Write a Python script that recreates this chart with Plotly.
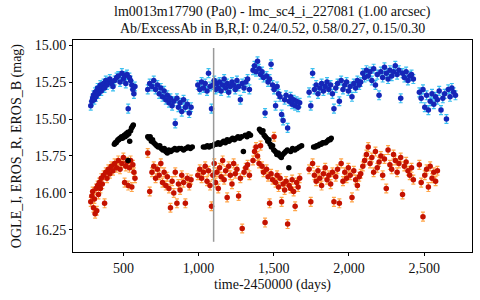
import plotly.graph_objects as go

# EROS observation epochs (days, time-2450000), shared by B and R
eros_t = [
    283, 290, 296, 301, 307, 312, 318, 323, 329, 334, 340, 347, 353, 360, 368, 375, 383, 391, 400, 410,
    420, 431, 442, 455, 466, 478, 490, 500, 508, 516, 524, 532, 540, 548, 556, 563, 570, 577,
    662, 675, 690, 702, 714, 726, 738, 749, 760, 771, 782, 792, 803, 813, 824, 835, 845, 856, 866, 877,
    888, 900, 912, 925, 938, 950,
    995, 1008, 1020, 1032, 1044, 1056, 1066, 1076, 1086, 1095, 1104, 1113, 1122, 1131, 1140, 1150, 1160,
    1170, 1180, 1190, 1200, 1211, 1222, 1233, 1244, 1255, 1266, 1278, 1290, 1302, 1314, 1326, 1338,
    1362, 1372, 1382, 1392, 1402, 1412, 1422, 1432, 1442, 1452, 1462, 1472, 1482, 1492, 1502, 1512,
    1522, 1532, 1542, 1552, 1562, 1572, 1582, 1592, 1602, 1612, 1622, 1632, 1642, 1652, 1662, 1672,
    1735, 1746, 1758, 1770, 1782, 1794, 1806, 1818, 1830, 1842, 1854, 1866, 1878, 1890, 1900, 1912,
    1924, 1936, 1948, 1960, 1972, 1984, 1996, 2008, 2020, 2032, 2044, 2056, 2068, 2078,
    2092, 2104, 2116, 2128, 2140, 2152, 2164, 2176, 2188, 2200, 2212, 2224, 2236, 2248, 2260, 2272,
    2284, 2296, 2308, 2320, 2332, 2344, 2356, 2368, 2380, 2392, 2404, 2416, 2428,
    2468, 2480, 2492, 2504, 2516, 2528, 2540, 2552, 2564, 2576, 2588, 2600, 2612, 2624, 2636, 2648,
    2660, 2672, 2684, 2696, 2708,
]

eros_b = [
    15.41, 15.38, 15.36, 15.34, 15.37, 15.32, 15.35, 15.31, 15.29, 15.33, 15.30, 15.27, 15.31, 15.28, 15.26, 15.29, 15.24, 15.27, 15.25, 15.23,
    15.26, 15.28, 15.24, 15.22, 15.21, 15.25, 15.19, 15.23, 15.21, 15.26, 15.20, 15.43, 15.22, 15.24, 15.27, 15.30, 15.33, 15.28,
    15.30, 15.26, 15.28, 15.24, 15.30, 15.27, 15.33, 15.29, 15.35, 15.31, 15.37, 15.34, 15.39, 15.36, 15.41, 15.38, 15.53, 15.36, 15.42, 15.39,
    15.45, 15.37, 15.42, 15.40, 15.46, 15.42,
    15.27, 15.30, 15.25, 15.29, 15.26, 15.31, 15.19, 15.28, 15.43, 15.27, 15.24, 15.30, 15.26, 15.29, 15.25, 15.31, 15.27,
    15.23, 15.29, 15.26, 15.32, 15.28, 15.25, 15.27, 15.30, 15.24, 15.28, 15.37, 15.26, 15.29, 15.25, 15.23, 15.30,
    15.17, 15.14, 15.18, 15.11, 15.16, 15.20, 15.18, 15.22, 15.46, 15.21, 15.25, 15.23, 15.13, 15.27, 15.30, 15.41,
    15.28, 15.33, 15.35, 15.47, 15.51, 15.37, 15.34, 15.56, 15.38, 15.35, 15.40, 15.37, 15.41, 15.38, 15.42, 15.39,
    15.32, 15.41, 15.19, 15.30, 15.27, 15.33, 15.29, 15.26, 15.31, 15.28, 15.25, 15.30, 15.27, 15.33, 15.43, 15.29,
    15.26, 15.38, 15.24, 15.30, 15.27, 15.25, 15.31, 15.28, 15.35, 15.26, 15.29, 15.24, 15.27, 15.25,
    15.19, 15.22, 15.17, 15.21, 15.18, 15.24, 15.16, 15.27, 15.20, 15.34, 15.18, 15.22, 15.15, 15.19, 15.23, 15.17,
    15.21, 15.18, 15.14, 15.20, 15.17, 15.36, 15.19, 15.22, 15.18, 15.24, 15.21, 15.20, 15.23,
    15.32, 15.36, 15.30, 15.42, 15.34, 15.44, 15.38, 15.33, 15.40, 15.35, 15.37, 15.31, 15.44, 15.36, 15.33, 15.50,
    15.30, 15.35, 15.29, 15.32, 15.34,
]

eros_r = [
    16.06, 16.02, 15.99, 16.10, 16.04, 16.14, 15.97, 16.12, 15.95, 16.01, 15.93, 15.97, 15.90, 15.94, 15.88, 16.07, 15.86, 15.90, 15.84, 15.87,
    15.82, 15.85, 15.80, 15.83, 15.78, 15.84, 15.80, 15.76, 15.93, 15.82, 15.79, 15.95, 15.83, 15.78, 15.96, 15.81, 15.86, 15.90,
    15.73, 15.99, 15.86, 15.82, 15.90, 15.84, 15.88, 15.80, 15.93, 15.86, 15.95, 15.89, 15.97, 16.10, 15.92, 16.00, 15.86, 16.07, 15.94, 15.98,
    15.88, 15.93, 16.07, 15.90, 15.95, 15.91,
    15.88, 15.84, 15.90, 15.86, 15.82, 15.92, 15.85, 15.95, 16.09, 15.88, 15.80, 15.93, 15.86, 15.97, 15.83, 15.89, 15.78,
    15.91, 15.85, 16.03, 15.82, 15.88, 15.94, 15.80, 15.87, 15.84, 16.02, 15.90, 16.24, 15.86, 15.83, 15.81, 15.88,
    15.78, 15.72, 15.69, 15.75, 15.80, 15.68, 15.82, 15.86, 16.20, 15.84, 15.89, 16.07, 15.87, 15.91, 15.62, 15.93,
    15.88, 15.96, 15.90, 16.06, 15.94, 15.98, 15.92, 16.21, 15.95, 15.97, 15.91, 15.99, 16.09, 15.93, 15.96, 15.90,
    15.84, 16.06, 15.80, 15.88, 15.92, 15.85, 15.90, 15.95, 15.87, 15.83, 15.91, 15.88, 15.94, 15.86, 16.06, 15.89,
    15.84, 16.07, 15.80, 15.92, 15.86, 15.90, 15.83, 15.88, 16.03, 15.85, 15.91, 15.95, 15.89, 15.87,
    15.82, 15.78, 15.74, 15.69, 15.80, 15.76, 15.86, 15.72, 15.83, 15.79, 15.75, 15.88, 15.77, 15.97, 15.71, 15.81,
    15.84, 15.74, 15.78, 15.86, 15.80, 15.76, 16.01, 15.82, 15.79, 15.85, 15.88, 15.83, 15.91,
    15.81, 15.93, 16.16, 15.88, 15.84, 15.96, 15.82, 15.90, 15.86, 15.92, 15.85, None, None, None, None, None,
    None, None, None, None, None,
]

err_b = 0.03
err_r = 0.03

# OGLE I epochs and magnitudes
ogle_t = [
    440, 446, 452, 458, 464, 470, 476, 482, 488, 494, 500, 506, 512, 518, 524, 530, 536, 542, 548, 554, 560, 566, 531,
    662, 670, 678, 686, 694, 702, 712, 722, 732, 742, 752, 762, 772, 782, 792, 802, 815, 828, 842, 856, 870,
    885, 900, 915, 930, 945, 958,
    1032, 1045, 1058, 1070, 1082, 1094, 1106, 1118, 1130, 1142, 1154, 1166, 1178, 1190, 1202, 1214, 1226,
    1238, 1250, 1262, 1274, 1286, 1298, 1310, 1322, 1334, 1345,
    1405, 1412, 1420, 1428, 1436, 1444, 1452, 1460, 1468, 1476, 1484, 1492, 1500, 1510, 1520, 1530, 1540,
    1550, 1560, 1570, 1580, 1590, 1600, 1612, 1625, 1640, 1655, 1670, 1685,
    1765, 1775, 1785, 1795, 1805, 1815, 1825, 1835, 1845, 1855, 1865, 1875, 1882,
]
ogle_i = [
    15.67, 15.66, 15.66, 15.65, 15.64, 15.64, 15.63, 15.63, 15.62, 15.63, 15.62, 15.61, 15.62, 15.60, 15.61, 15.59, 15.60, 15.65, 15.58, 15.56, 15.55, 15.54, 15.78,
    15.62, 15.63, 15.62, 15.65, 15.64, 15.66, 15.67, 15.68, 15.69, 15.68, 15.70, 15.71, 15.70, 15.72, 15.73, 15.71, 15.72, 15.71, 15.70, 15.71, 15.70,
    15.70, 15.71, 15.70, 15.69, 15.70, 15.69,
    15.69, 15.69, 15.68, 15.69, 15.68, 15.68, 15.67, 15.67, 15.66, 15.67, 15.66, 15.65, 15.66, 15.64, 15.65, 15.64, 15.63,
    15.64, 15.63, 15.62, 15.63, 15.62, 15.72, 15.61, 15.62, 15.60, 15.61,
    15.57, 15.58, 15.59, 15.58, 15.61, 15.62, 15.63, 15.65, 15.64, 15.67, 15.69, 15.68, 15.71, 15.72, 15.74, 15.73, 15.75,
    15.76, 15.74, 15.73, 15.72, 15.71, 15.83, 15.72, 15.70, 15.71, 15.70, 15.69, 15.68,
    15.69, 15.69, 15.68, 15.68, 15.67, 15.67, 15.66, 15.66, 15.66, 15.65, 15.64, 15.64, 15.63,
]

marker_line_day = 1100
marker_line_mag = [15.02, 16.33]

title_lines = ["lm0013m17790 (Pa0) - lmc_sc4_i_227081 (1.00 arcsec)",
               "Ab/ExcessAb in B,R,I: 0.24/0.52, 0.58/0.27, 0.15/0.30"]
x_label = "time-2450000 (days)"
y_label = "OGLE_I, EROS_R, EROS_B (mag)"
x_ticks = [500, 1000, 1500, 2000, 2500]
y_ticks = [15.00, 15.25, 15.50, 15.75, 16.00, 16.25]

FONT = "Liberation Serif"

fig = go.Figure()
fig.add_trace(go.Scatter(
    x=eros_t, y=eros_b, mode="markers", name="EROS_B",
    marker=dict(color="#1526b8", size=5.5),
    error_y=dict(type="constant", value=err_b, color="#3cc0f0", thickness=1.2, width=2),
))
fig.add_trace(go.Scatter(
    x=eros_t, y=eros_r, mode="markers", name="EROS_R",
    marker=dict(color="#c41200", size=5.5),
    error_y=dict(type="constant", value=err_r, color="#ffa64a", thickness=1.2, width=2),
))
fig.add_trace(go.Scatter(
    x=ogle_t, y=ogle_i, mode="markers", name="OGLE_I",
    marker=dict(color="#000000", size=5.5),
))
fig.add_trace(go.Scatter(
    x=[marker_line_day, marker_line_day], y=marker_line_mag, mode="lines",
    line=dict(color="#999999", width=1.5), hoverinfo="skip",
))

# plot area: x 73..472, y 40..252 px
fig.update_layout(
    width=480, height=300,
    margin=dict(l=73, r=8, t=40, b=48, autoexpand=False),
    paper_bgcolor="white", plot_bgcolor="white",
    showlegend=False,
    font=dict(family=FONT, size=14, color="#111111"),
    annotations=[
        dict(text=title_lines[0], x=0.5, xref="paper", y=1.132, yref="paper",
             xanchor="center", yanchor="middle", showarrow=False,
             font=dict(family=FONT, size=14)),
        dict(text=title_lines[1], x=0.5, xref="paper", y=1.052, yref="paper",
             xanchor="center", yanchor="middle", showarrow=False,
             font=dict(family=FONT, size=14)),
        dict(text=x_label, x=0.5, xref="paper", y=-0.158, yref="paper",
             xanchor="center", yanchor="middle", showarrow=False,
             font=dict(family=FONT, size=14)),
        dict(text=y_label, x=-0.14, xref="paper", y=0.5, yref="paper",
             xanchor="center", yanchor="middle", showarrow=False, textangle=-90,
             font=dict(family=FONT, size=14)),
    ],
)
fig.update_xaxes(
    range=[165, 2818], tickvals=x_ticks, tickformat=",d", automargin=False,
    showline=True, linecolor="black", linewidth=1, mirror=True,
    ticks="outside", ticklen=3, tickcolor="black", showgrid=False, zeroline=False,
    tickfont=dict(family=FONT, size=14),
)
fig.update_yaxes(
    range=[16.399, 14.966], tickvals=y_ticks, tickformat=".2f", automargin=False,
    showline=True, linecolor="black", linewidth=1, mirror=True,
    ticks="outside", ticklen=3, tickcolor="black", showgrid=False, zeroline=False,
    tickfont=dict(family=FONT, size=14),
)

fig.write_html("out.html", config={"displayModeBar": False},
               post_script="document.body.style.margin='0';")
